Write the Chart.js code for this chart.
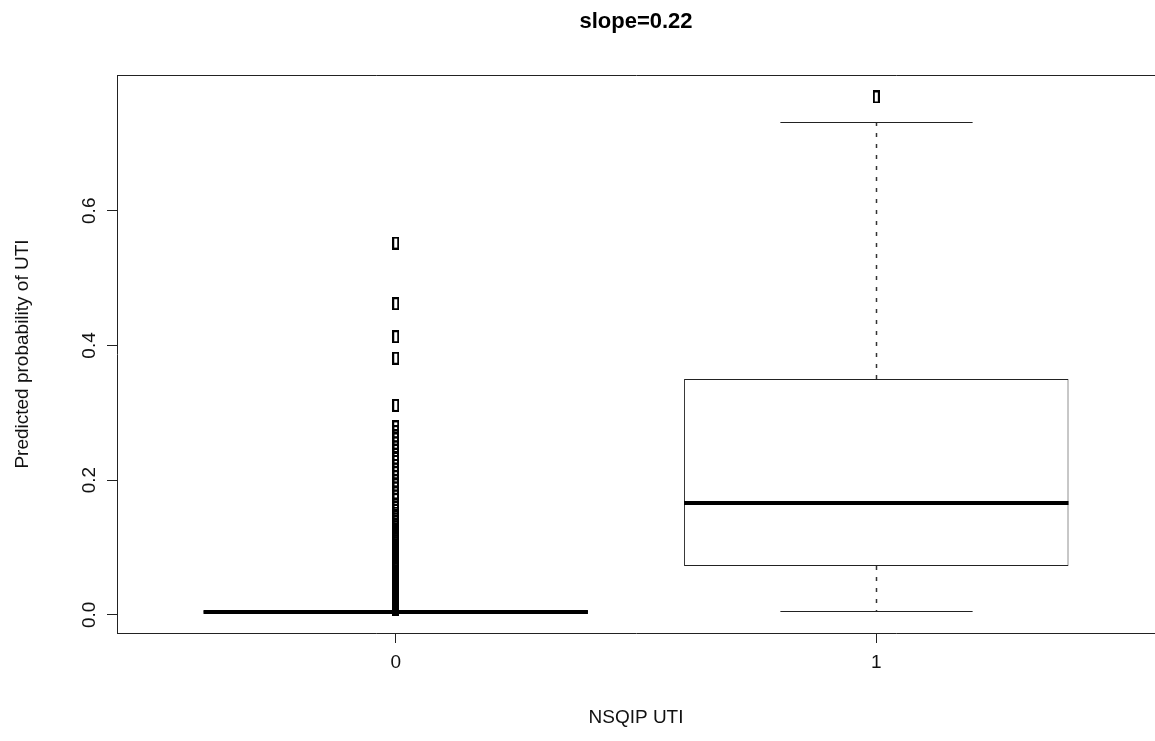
<!DOCTYPE html>
<html>
<head>
<meta charset="utf-8">
<script src="https://cdn.jsdelivr.net/npm/chart.js@4.4.1/dist/chart.umd.min.js"></script>
<style>
  html, body { margin: 0; padding: 0; background: #fff; }
</style>
</head>
<body>
<canvas id="boxChart" width="1155" height="741"></canvas>
<script>
// groups on the x axis (R places them at 1 and 2)
const groups = ['0', '1'];
const groupPos = [1, 2];

// box statistics
const lowerWhisker = [0.002, 0.005];
const lowerQuartile = [0.003, 0.0725];
const medians = [0.0042, 0.166];
const upperQuartile = [0.0055, 0.35];
const upperWhisker = [0.007, 0.732];

// outliers
const outliers0 = [0.552, 0.462, 0.413, 0.381, 0.311,
  0.279, 0.272, 0.266, 0.261, 0.255, 0.249, 0.244, 0.238, 0.233, 0.228,
  0.222, 0.216, 0.211, 0.205, 0.199, 0.193, 0.188, 0.181, 0.176, 0.171,
  0.163, 0.159, 0.155, 0.151, 0.147, 0.142, 0.138, 0.133, 0.130, 0.126,
  0.123, 0.119, 0.116, 0.112, 0.109, 0.106, 0.103, 0.100, 0.097, 0.094,
  0.090, 0.085, 0.082, 0.080, 0.077, 0.075, 0.072, 0.070, 0.068, 0.065,
  0.063, 0.061, 0.058, 0.056, 0.054, 0.052, 0.050, 0.048, 0.046, 0.044,
  0.042, 0.040, 0.038, 0.036, 0.034, 0.032, 0.030, 0.028, 0.026, 0.024,
  0.022, 0.020, 0.018, 0.016, 0.014, 0.012, 0.010, 0.008];
const outliers1 = [0.769];

const yTicks = [0, 0.2, 0.4, 0.6];

const FONT = "'Liberation Sans', Arial, sans-serif";

// small open rectangle used for the outlier points
function makeMarker() {
  const c = document.createElement('canvas');
  c.width = 7;
  c.height = 13;
  const g = c.getContext('2d');
  g.strokeStyle = '#000';
  g.lineWidth = 2;
  g.strokeRect(1, 1, 5, 11);
  return c;
}

const outlierPoints = [];
outliers0.forEach(v => outlierPoints.push({ x: groupPos[0], y: v }));
outliers1.forEach(v => outlierPoints.push({ x: groupPos[1], y: v }));

// whiskers, staples and medians drawn on top of the boxes
const boxExtras = {
  id: 'boxExtras',
  afterDatasetsDraw(chart) {
    const { ctx, scales: { x, y } } = chart;
    const bars = chart.getDatasetMeta(0).data;
    const seg = (x1, y1, x2, y2) => {
      ctx.beginPath();
      ctx.moveTo(x1, y1);
      ctx.lineTo(x2, y2);
      ctx.stroke();
    };
    const crisp = v => Math.round(v) + 0.5;
    ctx.save();
    bars.forEach((bar, i) => {
      const cx = crisp(x.getPixelForValue(groupPos[i]));
      const half = bar.width / 2;
      const yLW = crisp(y.getPixelForValue(lowerWhisker[i]));
      const yQ1 = y.getPixelForValue(lowerQuartile[i]);
      const yQ3 = y.getPixelForValue(upperQuartile[i]);
      const yUW = crisp(y.getPixelForValue(upperWhisker[i]));
      const yMed = y.getPixelForValue(medians[i]);

      ctx.strokeStyle = '#333';
      ctx.lineWidth = 1.5;
      ctx.setLineDash([4, 7]);
      seg(cx, yQ3, cx, yUW);
      seg(cx, yQ1, cx, yLW);
      ctx.setLineDash([]);
      ctx.lineWidth = 1;
      ctx.strokeStyle = '#222';
      seg(cx - half / 2, yUW, cx + half / 2, yUW);
      seg(cx - half / 2, yLW, cx + half / 2, yLW);

      ctx.strokeStyle = '#000';
      ctx.lineWidth = 4;
      seg(bar.x - half, yMed, bar.x + half, yMed);
    });
    ctx.restore();
  }
};

new Chart(document.getElementById('boxChart'), {
  type: 'bar',
  data: {
    datasets: [
      {
        type: 'bar',
        data: groupPos.map((p, i) => ({ x: p, y: [lowerQuartile[i], upperQuartile[i]] })),
        backgroundColor: '#fff',
        borderColor: '#222',
        borderWidth: 1,
        borderSkipped: false,
        categoryPercentage: 1.0,
        barPercentage: 0.8
      },
      {
        type: 'scatter',
        data: outlierPoints,
        pointStyle: makeMarker(),
        pointRadius: 4,
        showLine: false
      }
    ]
  },
  options: {
    responsive: false,
    animation: false,
    events: [],
    layout: { padding: 0, autoPadding: false },
    plugins: {
      legend: { display: false },
      tooltip: { enabled: false },
      title: {
        display: true,
        text: 'slope=0.22',
        fullSize: false,
        color: '#000',
        font: { family: FONT, size: 22, weight: 'bold', lineHeight: 1.2 },
        padding: { top: 9, bottom: 39.6 }
      }
    },
    scales: {
      x: {
        type: 'linear',
        position: 'bottom',
        offset: false,
        min: 0.42,
        max: 2.58,
        afterBuildTicks: s => { s.ticks = groupPos.map(v => ({ value: v })); },
        afterFit: s => { s.height = 108; s.paddingLeft = 0; s.paddingRight = 0; },
        ticks: {
          color: '#111',
          font: { family: FONT, size: 19 },
          padding: 8,
          maxRotation: 0,
          callback: v => groups[groupPos.indexOf(v)]
        },
        grid: { offset: false, drawOnChartArea: false, tickLength: 10, tickColor: '#222' },
        border: { display: true, color: '#222' },
        title: {
          display: true,
          text: 'NSQIP UTI',
          color: '#111',
          font: { family: FONT, size: 19 },
          padding: { top: 0, bottom: 12 }
        }
      },
      x2: {
        type: 'linear',
        position: 'top',
        offset: false,
        min: 0.42,
        max: 2.58,
        afterFit: s => { s.height = 0; s.paddingLeft = 0; s.paddingRight = 0; },
        ticks: { display: false },
        grid: { display: false, drawTicks: false },
        border: { display: true, color: '#222' }
      },
      y: {
        type: 'linear',
        min: -0.027,
        max: 0.8016,
        afterBuildTicks: s => { s.ticks = yTicks.map(v => ({ value: v })); },
        afterFit: s => { s.width = 117; s.paddingTop = 0; s.paddingBottom = 0; },
        ticks: {
          color: '#111',
          font: { family: FONT, size: 19 },
          minRotation: 90,
          maxRotation: 90,
          crossAlign: 'center',
          padding: 4,
          callback: v => v.toFixed(1)
        },
        grid: { drawOnChartArea: false, tickLength: 10, tickColor: '#222' },
        border: { display: true, color: '#222' },
        title: {
          display: true,
          text: 'Predicted probability of UTI',
          color: '#111',
          font: { family: FONT, size: 19 },
          padding: { top: 11, bottom: 0 }
        }
      }
    }
  },
  plugins: [boxExtras]
});
</script>
</body>
</html>
